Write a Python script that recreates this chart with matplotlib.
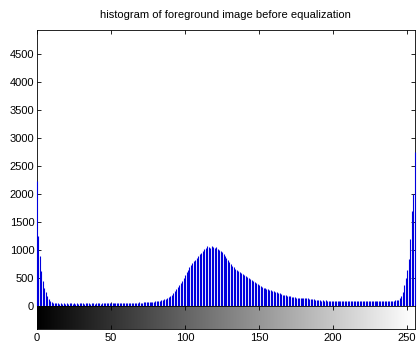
import numpy as np
import matplotlib.pyplot as plt

# gray levels 0..255 and pixel counts
levels = np.arange(256)
counts = np.array(
    [2230, 1250, 890, 625, 450, 330, 250, 180, 125, 90, 70, 55]
    + [50, 45, 48, 42, 50, 44, 46, 40, 48, 43, 45, 50, 41, 47, 44, 49, 42, 46, 45]
    + [48, 43, 50, 45, 47, 42, 51, 46, 44, 49, 45, 48, 43, 52, 47, 45, 50, 46, 49, 51]
    + [47, 53, 49, 52, 48, 55, 50, 53, 57, 52, 56, 54, 58, 55, 60, 57, 62, 59, 64, 61]
    + [62, 65, 63, 67, 66, 70, 72, 76, 80, 84, 88, 92, 98, 104, 112, 120, 130, 142, 158]
    + [180, 205, 235, 270, 300, 335, 370, 410, 450, 500]
    + [560, 610, 650, 700, 740, 770, 800, 830, 860, 900]
    + [930, 955, 980, 1010, 1030, 1070, 1050, 1040, 1075, 1060]
    + [1040, 1045, 1020, 1000, 980, 960, 925, 890, 860, 820]
    + [790, 750, 720, 690, 665, 650, 630, 610, 595, 575]
    + [560, 535, 515, 500, 485, 465, 450, 425, 405, 390]
    + [370, 355, 340, 330, 315, 305, 300, 290, 280, 273]
    + [260, 250, 244, 235, 226, 215, 205, 195, 188, 184]
    + [180, 172, 166, 160, 155, 150, 147, 143, 140, 143]
    + [140, 137, 135, 137, 132, 128, 125, 120, 115, 110]
    + [105, 100, 98, 102, 95, 99, 92, 97, 94, 90, 96, 88, 93, 91, 87, 94, 89, 92, 86, 90]
    + [88, 92, 85, 89, 91, 84, 88, 86, 90, 83, 87, 89, 85, 88, 84, 90, 86, 88, 85, 91]
    + [87, 89, 86, 92, 88, 90, 87, 93, 89, 95, 92, 95, 100, 105, 115]
    + [140, 185, 250, 380, 500, 650, 840, 1200, 1700, 2000, 2750]
)
x_ticks = [0, 50, 100, 150, 200, 250]
y_ticks = [0, 500, 1000, 1500, 2000, 2500, 3000, 3500, 4000, 4500]
title = "histogram of foreground image before equalization"

plt.rcParams["font.family"] = ["Liberation Sans", "DejaVu Sans"]
W, H = 417, 345
fig = plt.figure(figsize=(W / 100, H / 100), dpi=100)

left, right = 37, 414.5
top, split, bottom = 30, 306, 329

ax = fig.add_axes([left / W, 1 - split / H, (right - left) / W, (split - top) / H])
ax.vlines(levels, 0, counts, colors="#0000dd", linewidth=0.8, clip_on=False, zorder=3)
ax.set_xlim(0, 255)
ax.set_ylim(0, 4930)
ax.set_xticks(x_ticks)
ax.set_yticks(y_ticks)
ax.tick_params(direction="in", length=3, width=0.6, top=True, right=True,
               labelbottom=False, labelsize=8, colors="black", pad=2)
for s in ax.spines.values():
    s.set_linewidth(0.6)
ax.set_title(title, fontsize=8, pad=9)

cax = fig.add_axes([left / W, 1 - bottom / H, (right - left) / W, (bottom - split) / H])
gradient = np.linspace(0, 1, 256).reshape(1, -1)
cax.imshow(gradient, cmap="gray", aspect="auto", extent=[0, 255, 0, 1])
cax.set_xlim(0, 255)
cax.set_ylim(0, 1)
cax.set_xticks(x_ticks)
cax.set_yticks([])
cax.tick_params(direction="in", length=3, width=0.6, top=True,
                labelsize=8, pad=3)
for s in cax.spines.values():
    s.set_linewidth(0.6)

fig.savefig("out.png", dpi=100)
